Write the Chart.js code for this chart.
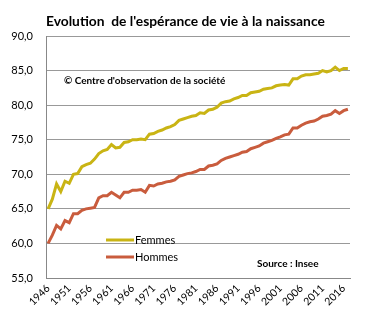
<!DOCTYPE html>
<html><head><meta charset="utf-8">
<script src="https://cdn.jsdelivr.net/npm/chart.js@4.4.1/dist/chart.umd.min.js"></script>
<style>html,body{margin:0;padding:0;background:#fff}#w{width:369px;height:324px;position:relative}</style>
</head><body><div id="w"><canvas id="c" width="369" height="324"></canvas></div>
<script>
const years = [];
for (let y = 1946; y <= 2017; y++) years.push(String(y));
const femmes = [65.0,66.4,68.6,67.5,69.0,68.7,70.0,70.1,71.1,71.4,71.6,72.2,73.0,73.4,73.6,74.3,73.8,73.9,74.6,74.7,75.0,75.0,75.1,75.0,75.8,75.9,76.2,76.4,76.7,76.9,77.2,77.8,78.0,78.2,78.4,78.5,78.9,78.8,79.3,79.4,79.7,80.3,80.5,80.6,80.9,81.1,81.4,81.4,81.8,81.9,82.0,82.3,82.4,82.5,82.8,82.9,83.0,82.9,83.8,83.8,84.2,84.4,84.4,84.5,84.6,85.0,84.8,85.0,85.5,85.0,85.3,85.3];
const hommes = [60.0,61.2,62.6,62.1,63.3,63.0,64.3,64.3,64.8,65.0,65.1,65.2,66.6,66.9,66.9,67.4,67.0,66.6,67.4,67.4,67.7,67.7,67.8,67.4,68.4,68.3,68.6,68.7,68.9,69.0,69.2,69.7,69.9,70.1,70.2,70.4,70.7,70.7,71.2,71.3,71.5,72.0,72.3,72.5,72.7,72.9,73.2,73.3,73.7,73.9,74.1,74.5,74.7,74.9,75.2,75.4,75.7,75.8,76.7,76.7,77.1,77.4,77.6,77.7,78.0,78.4,78.5,78.7,79.2,78.8,79.2,79.4];
const yTicks = [55,60,65,70,75,80,85,90];

const cFem = '#C9B414', cHom = '#C95C3D';
const FONT = 'Lato, "Open Sans", sans-serif';

const deco = {
  id: 'deco',
  afterDraw(chart) {
    const ctx = chart.ctx;
    ctx.save();
    ctx.fillStyle = '#000';
    ctx.textBaseline = 'middle';
    ctx.textAlign = 'left';
    ctx.font = 'bold 13.8px ' + FONT;
    ctx.fillText("Evolution  de l'espérance de vie à la naissance", 46, 22);
    ctx.font = 'bold 10px ' + FONT;
    ctx.fillText("© Centre d'observation de la société", 64, 81);
    ctx.fillText("Source : Insee", 257, 264);
    ctx.lineWidth = 3;
    ctx.strokeStyle = cFem;
    ctx.beginPath(); ctx.moveTo(106, 240); ctx.lineTo(134, 240); ctx.stroke();
    ctx.strokeStyle = cHom;
    ctx.beginPath(); ctx.moveTo(106, 257); ctx.lineTo(134, 257); ctx.stroke();
    ctx.font = '11px ' + FONT;
    ctx.fillStyle = '#000';
    ctx.fillText('Femmes', 135, 240);
    ctx.fillText('Hommes', 135, 257);
    ctx.restore();
  }
};

new Chart(document.getElementById('c'), {
  type: 'line',
  data: {
    labels: years,
    datasets: [
      {label: 'Femmes', data: femmes, borderColor: cFem, backgroundColor: cFem, borderWidth: 3, pointRadius: 0, tension: 0},
      {label: 'Hommes', data: hommes, borderColor: cHom, backgroundColor: cHom, borderWidth: 3, pointRadius: 0, tension: 0}
    ]
  },
  options: {
    responsive: false, animation: false,
    layout: {padding: {top: 36, right: 19, left: 0, bottom: 0}},
    plugins: {legend: {display: false}, tooltip: {enabled: false}},
    scales: {
      x: {
        offset: true,
        grid: {display: false, drawTicks: false},
        border: {display: true, color: '#888', width: 1},
        ticks: {
          autoSkip: false, maxRotation: 45, minRotation: 45, padding: 4,
          color: '#000', font: {family: FONT, size: 10.5},
          callback: function(v, i) { const y = +years[i]; return (y - 1946) % 5 === 0 ? years[i] : ''; }
        },
        afterFit(s) { s.height = 46; }
      },
      y: {
        min: 55, max: 90,
        afterBuildTicks(s) { s.ticks = yTicks.map(v => ({value: v})); },
        grid: {color: '#999', borderDash: [1, 2], drawTicks: false, lineWidth: 1},
        border: {display: true, color: '#888', width: 1},
        ticks: {
          padding: 13, color: '#000', font: {family: FONT, size: 11},
          callback: v => v.toFixed(1).replace('.', ',')
        },
        afterFit(s) { s.width = 46; }
      }
    }
  },
  plugins: [deco]
});
</script></body></html>
